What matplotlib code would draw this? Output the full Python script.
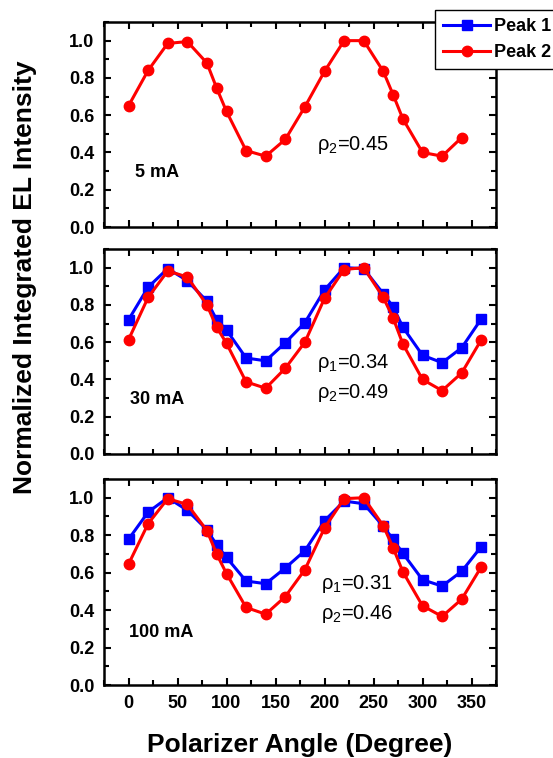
"""Polarization-resolved EL intensity vs polarizer angle at three drive currents."""
import numpy as np
import matplotlib
matplotlib.use("Agg")
import matplotlib.pyplot as plt
from matplotlib.ticker import MultipleLocator

plt.rcParams["font.family"] = ["Liberation Sans", "DejaVu Sans"]
plt.rcParams["mathtext.default"] = "regular"

angle = [0, 20, 40, 60, 80, 90, 100, 120, 140, 160, 180, 200, 220, 240,
         260, 270, 280, 300, 320, 340, 360]
angle_5 = angle[:-1]  # 5 mA run stops at 340

# 5 mA: only peak 2 measured
p2_5 = [0.65, 0.84, 0.985, 0.995, 0.88, 0.745, 0.62, 0.41, 0.38, 0.47, 0.645,
        0.835, 1.0, 1.0, 0.835, 0.71, 0.58, 0.40, 0.38, 0.48]

# 30 mA
p1_30 = [0.72, 0.895, 0.995, 0.93, 0.82, 0.72, 0.665, 0.515, 0.50, 0.597, 0.705,
         0.88, 1.0, 0.995, 0.86, 0.79, 0.68, 0.53, 0.49, 0.57, 0.725]
p2_30 = [0.613, 0.84, 0.982, 0.95, 0.80, 0.68, 0.594, 0.387, 0.353, 0.46, 0.60,
         0.835, 0.99, 1.0, 0.84, 0.73, 0.59, 0.40, 0.34, 0.435, 0.613]

# 100 mA
p1_100 = [0.778, 0.923, 1.0, 0.933, 0.829, 0.748, 0.681, 0.555, 0.541, 0.625,
          0.717, 0.877, 0.982, 0.968, 0.847, 0.778, 0.703, 0.562, 0.528, 0.607, 0.739]
p2_100 = [0.645, 0.861, 0.995, 0.964, 0.825, 0.699, 0.595, 0.414, 0.378, 0.472,
          0.616, 0.838, 0.995, 1.0, 0.85, 0.733, 0.604, 0.423, 0.366, 0.458, 0.631]

currents = ["5 mA", "30 mA", "100 mA"]
rho_text = [r"$\rho_2$=0.45",
            r"$\rho_1$=0.34" + "\n" + r"$\rho_2$=0.49",
            r"$\rho_1$=0.31" + "\n" + r"$\rho_2$=0.46"]

W, H = 553, 758
fig = plt.figure(figsize=(W / 100, H / 100), dpi=100)

# panel boxes in pixels: (top, bottom)
boxes = [(22, 227), (249, 454), (479, 685)]
left_px, right_px = 104, 496

series = [
    [(None, None), (angle_5, p2_5)],
    [(angle, p1_30), (angle, p2_30)],
    [(angle, p1_100), (angle, p2_100)],
]
ann_pos = [(7, 0.29), (2, 0.29), (1, 0.28)]
rho_pos = [(192, 0.44), (192, 0.41), (196, 0.46)]

axes = []
for i, (top, bot) in enumerate(boxes):
    ax = fig.add_axes([left_px / W, 1 - bot / H, (right_px - left_px) / W, (bot - top) / H])
    axes.append(ax)
    (x1, y1), (x2, y2) = series[i]
    h1, = ax.plot(x1 if x1 else [], y1 if y1 else [], "-s", color="#0000ff", lw=2.2,
                  ms=7, label="Peak 1")
    h2, = ax.plot(x2, y2, "-o", color="#ff0000", lw=2.2, ms=7.5, label="Peak 2")
    ax.set_xlim(-25, 375)
    ax.set_ylim(0, 1.1)
    ax.xaxis.set_major_locator(MultipleLocator(50))
    ax.xaxis.set_minor_locator(MultipleLocator(25))
    ax.yaxis.set_major_locator(MultipleLocator(0.2))
    ax.yaxis.set_minor_locator(MultipleLocator(0.1))
    ax.tick_params(which="both", direction="in", top=True, right=True, width=1.5,
                   labelsize=13, pad=7)
    ax.tick_params(which="major", length=5)
    ax.tick_params(which="minor", length=3.5)
    ax.yaxis.set_major_formatter(matplotlib.ticker.FormatStrFormatter("%.1f"))
    for lab in ax.get_xticklabels() + ax.get_yticklabels():
        lab.set_fontweight("bold")
    for sp in ax.spines.values():
        sp.set_linewidth(1.8)
    if i < 2:
        ax.tick_params(labelbottom=False)
    ax.text(ann_pos[i][0], ann_pos[i][1], currents[i], fontsize=13, fontweight="bold",
            va="center", ha="left")
    ax.text(rho_pos[i][0], rho_pos[i][1], rho_text[i], fontsize=14.5, va="center",
            ha="left", linespacing=1.5)
    if i == 0:
        handles = [h1, h2]

axes[2].set_xlabel("Polarizer Angle (Degree)", fontsize=19, fontweight="bold", labelpad=15)
fig.text(25 / W, 1 - 277 / H, "Normalized Integrated EL Intensity", rotation=90,
         fontsize=19, fontweight="bold", ha="center", va="center")

leg = fig.legend(handles, ["Peak 1", "Peak 2"], loc="upper left",
                 bbox_to_anchor=(435 / W, 1 - 10 / H), fontsize=13, frameon=True,
                 fancybox=False, edgecolor="black", framealpha=1, handlelength=2.6,
                 handletextpad=0.2, borderpad=0.45, labelspacing=0.5, borderaxespad=0)
leg.get_frame().set_linewidth(1)
for t in leg.get_texts():
    t.set_fontweight("bold")

fig.savefig("out.png", dpi=100)
